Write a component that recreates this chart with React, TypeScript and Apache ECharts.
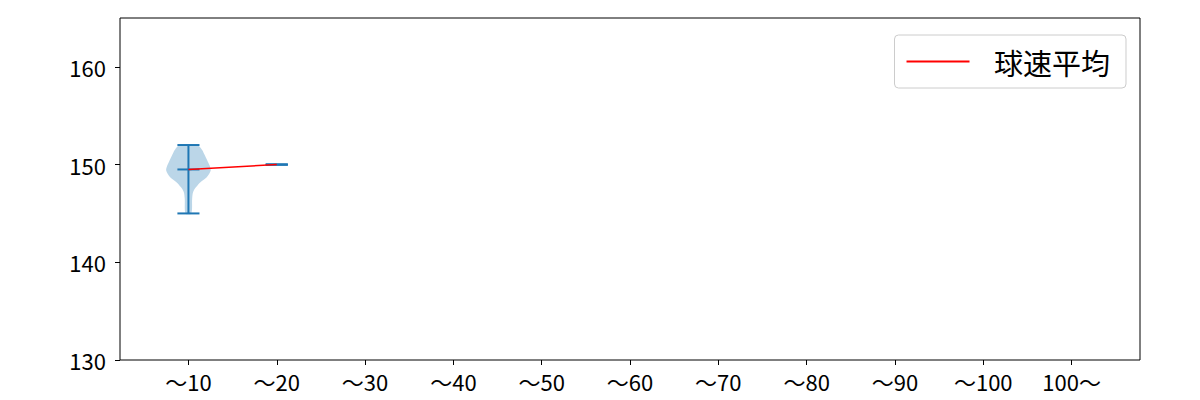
import React, { useEffect, useRef } from "react";
import * as echarts from "echarts";

// カテゴリ (打球数区分)
const categories = ["～10", "～20", "～30", "～40", "～50", "～60", "～70", "～80", "～90", "～100", "100～"];
const yTicks = [130, 140, 150, 160];

// バイオリン (球速分布)
const violinPos = [1, 2];
const violinMin = [145, 150];
const violinMax = [152, 150];
const violinMean = [149.5, 150];
// [球速, 半幅] の輪郭
const violinProfile1 = [
  [152.0, 0.1],
  [151.5, 0.155],
  [151.0, 0.183],
  [150.3, 0.22],
  [149.9, 0.24],
  [149.4, 0.252],
  [148.7, 0.207],
  [148.2, 0.136],
  [147.7, 0.087],
  [147.2, 0.053],
  [146.5, 0.042],
  [145.0, 0.032],
];
const violinProfiles = [violinProfile1, []];

// 球速平均の折れ線
const meanX = [1, 2];
const meanY = [149.5, 150];

const BLUE = "#1f77b4";
const FONT = "Noto Sans CJK JP";

const App = () => {
  const chartRef = useRef(null);

  useEffect(() => {
    const chart = echarts.init(chartRef.current, null, { renderer: "svg" });

    const violinData = violinPos.map((p, i) => [p, violinMin[i], violinMax[i], violinMean[i]]);

    const renderViolin = (params: any, api: any) => {
      const idx = params.dataIndex;
      const pos = api.value(0);
      const lo = api.value(1);
      const hi = api.value(2);
      const mean = api.value(3);
      const prof = violinProfiles[idx];
      const children: any[] = [];
      if (prof.length) {
        const right = prof.map(([v, w]) => api.coord([pos + w, v]));
        const left = prof
          .slice()
          .reverse()
          .map(([v, w]) => api.coord([pos - w, v]));
        children.push({
          type: "polygon",
          shape: { points: right.concat(left), smooth: 0.3 },
          style: { fill: "rgba(31,119,180,0.3)" },
        });
      }
      const seg = (x1: number, y1: number, x2: number, y2: number) => {
        const a = api.coord([x1, y1]);
        const b = api.coord([x2, y2]);
        return {
          type: "line",
          shape: { x1: a[0], y1: a[1], x2: b[0], y2: b[1] },
          style: { stroke: BLUE, lineWidth: 2 },
        };
      };
      children.push(seg(pos, lo, pos, hi));
      children.push(seg(pos - 0.125, lo, pos + 0.125, lo));
      children.push(seg(pos - 0.125, hi, pos + 0.125, hi));
      children.push(seg(pos - 0.125, mean, pos + 0.125, mean));
      return { type: "group", children };
    };

    const options = {
      animation: false,
      textStyle: { fontFamily: FONT },
      grid: {
        left: 120,
        right: 60,
        top: 18,
        bottom: 40,
        show: true,
        borderColor: "#000",
        borderWidth: 1,
        backgroundColor: "#fff",
      },
      legend: {
        right: 74,
        top: 35,
        padding: [12, 16, 12, 11],
        itemWidth: 63,
        itemHeight: 14,
        borderColor: "#ccc",
        borderWidth: 1,
        borderRadius: 4,
        backgroundColor: "#fff",
        itemStyle: { opacity: 0 },
        formatter: (name: string) => "   " + name,
        textStyle: { fontFamily: FONT, fontSize: 29, color: "#000" },
        data: ["球速平均"],
      },
      xAxis: {
        type: "value",
        min: 0.225,
        max: 11.775,
        splitLine: { show: false },
        axisLine: { show: false },
        axisTick: { show: true, length: 5, customValues: categories.map((_, i) => i + 1), lineStyle: { color: "#000" } },
        axisLabel: {
          customValues: categories.map((_, i) => i + 1),
          formatter: (v: number) => categories[Math.round(v) - 1] ?? "",
          color: "#000",
          fontSize: 22,
          fontFamily: FONT,
          margin: 10,
        },
      },
      yAxis: {
        type: "value",
        min: 130,
        max: 165,
        splitLine: { show: false },
        axisLine: { show: false },
        axisTick: { show: true, length: 5, customValues: yTicks, lineStyle: { color: "#000" } },
        axisLabel: {
          customValues: yTicks,
          color: "#000",
          fontSize: 22,
          fontFamily: FONT,
          margin: 14,
        },
      },
      series: [
        {
          type: "custom",
          name: "violin",
          renderItem: renderViolin,
          encode: { x: 0, y: [1, 2] },
          data: violinData,
          z: 2,
        },
        {
          type: "line",
          name: "球速平均",
          data: meanX.map((x, i) => [x, meanY[i]]),
          symbol: "none",
          lineStyle: { color: "red", width: 1.5 },
          itemStyle: { color: "red" },
          z: 3,
        },
      ],
    };

    chart.setOption(options);
    return () => chart.dispose();
  }, []);

  return (
    <div
      ref={chartRef}
      style={{ position: "fixed", left: 0, top: 0, width: "1200px", height: "400px", background: "#fff" }}
    />
  );
};

export default App;
